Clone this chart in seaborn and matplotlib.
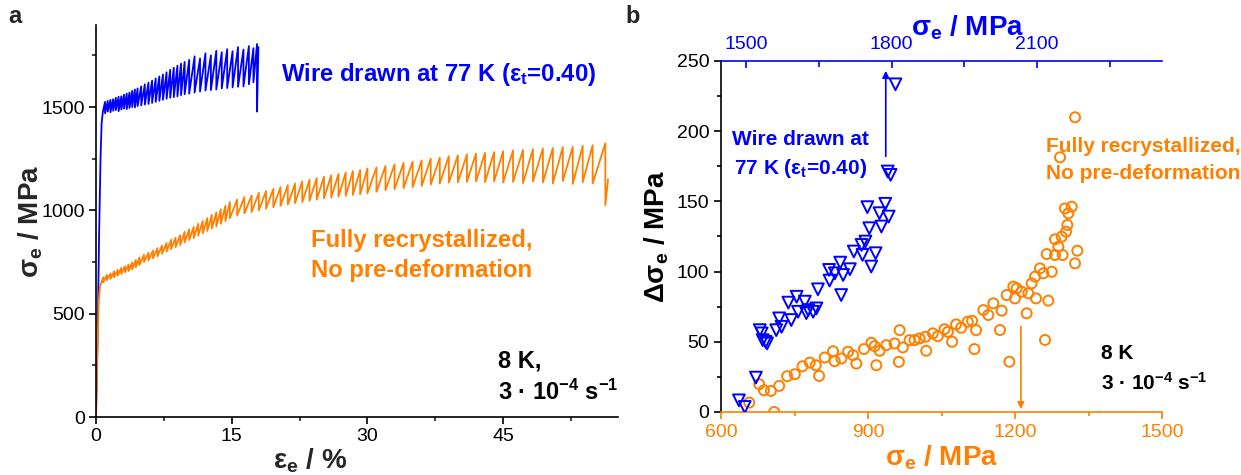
import numpy as np
import pandas as pd
import matplotlib
matplotlib.use('Agg')
import matplotlib.pyplot as plt
from matplotlib.ticker import MultipleLocator, FixedLocator
import seaborn as sns

BLUE = '#0000FF'
ORANGE = '#FF8000'

# ---------------- Panel a: engineering stress-strain curves ----------------
# wire drawn at 77 K
blue_elastic_strain = [0.0, 0.2, 0.35, 0.5, 0.62, 0.75]
blue_elastic_stress = [0, 450, 900, 1250, 1420, 1475]
blue_serr_strain = [1.0, 1.3, 1.6, 1.9, 2.2, 2.5, 2.8, 3.1, 3.4, 3.7, 4.0, 4.3, 4.6, 5.0,
                    5.4, 5.8, 6.2, 6.6, 7.0, 7.4, 7.8, 8.2, 8.6, 9.0, 9.4, 9.8,
                    10.3, 10.9, 11.5, 12.1, 12.7, 13.3, 13.9, 14.5, 15.1, 15.7, 16.3, 16.9, 17.4, 17.8]
blue_peak_stress = [1525, 1530, 1535, 1538, 1545, 1550, 1552, 1560, 1565, 1570, 1578, 1585, 1590, 1600,
                    1610, 1618, 1628, 1638, 1648, 1658, 1668, 1680, 1690, 1700, 1710, 1718,
                    1728, 1745, 1735, 1760, 1750, 1772, 1765, 1780, 1770, 1790, 1778, 1795, 1785, 1805]
blue_trough_stress = [1470, 1478, 1475, 1482, 1485, 1480, 1488, 1492, 1490, 1495, 1500, 1498, 1505, 1508,
                      1512, 1515, 1520, 1525, 1530, 1535, 1540, 1545, 1548, 1552, 1558, 1562,
                      1565, 1570, 1575, 1580, 1582, 1585, 1590, 1592, 1595, 1598, 1600, 1610, 1620, 1478]
blue_end_strain = [17.95]
blue_end_stress = [1790]

# fully recrystallized
orange_elastic_strain = [0.0, 0.15, 0.3, 0.45, 0.6]
orange_elastic_stress = [0, 300, 560, 635, 650]
orange_serr_strain = [0.8, 1.2, 1.6, 2.0, 2.4, 2.8, 3.2, 3.6, 4.0, 4.4, 4.8,
                      5.3, 5.8, 6.3, 6.8, 7.3, 7.8, 8.3, 8.8, 9.3, 9.8, 10.3, 10.8, 11.3, 11.8,
                      12.3, 12.8, 13.3, 13.8, 14.3, 14.8,
                      15.6, 16.4, 17.2, 18.0, 18.8, 19.6, 20.4, 21.2, 22.0, 22.8, 23.6, 24.4,
                      25.2, 26.0, 26.8, 27.6, 28.4, 29.2, 30.0,
                      31.0, 32.0, 33.0, 34.0, 35.0, 36.0, 37.0, 38.0, 39.0, 40.0, 41.0, 42.0,
                      43.0, 44.0, 45.0,
                      46.1, 47.2, 48.3, 49.4, 50.5, 51.6, 52.7, 53.8, 54.9, 56.3]
orange_peak_stress = [675, 688, 695, 705, 712, 722, 730, 738, 748, 760, 772,
                      785, 795, 806, 818, 830, 842, 858, 868, 880, 896, 908, 920, 935, 948,
                      962, 978, 990, 1005, 1022, 1040,
                      1052, 1064, 1072, 1085, 1094, 1104, 1112, 1122, 1130, 1140, 1148, 1156,
                      1163, 1170, 1176, 1183, 1190, 1195, 1202,
                      1208, 1215, 1222, 1230, 1236, 1242, 1250, 1255, 1262, 1266, 1270, 1275,
                      1278, 1282, 1286,
                      1290, 1292, 1296, 1300, 1302, 1306, 1308, 1312, 1315, 1325]
orange_trough_stress = [652, 662, 668, 676, 684, 692, 700, 706, 714, 724, 735,
                        750, 758, 768, 778, 790, 800, 812, 822, 832, 845, 856, 866, 878, 888,
                        900, 912, 922, 935, 948, 962,
                        975, 985, 992, 1000, 1008, 1015, 1022, 1028, 1035, 1040, 1046, 1052,
                        1058, 1062, 1066, 1070, 1075, 1078, 1082,
                        1090, 1098, 1102, 1108, 1112, 1118, 1125, 1130, 1134, 1136, 1138, 1140,
                        1136, 1140, 1135,
                        1138, 1132, 1140, 1135, 1130, 1142, 1128, 1136, 1130, 1025]
orange_end_strain = [56.6]
orange_end_stress = [1150]

# ---------------- Panel b: stress drop vs. stress ----------------
blue_sigma = [1485, 1497, 1520, 1528, 1534, 1543, 1540, 1532, 1562, 1568, 1573, 1593, 1587,
              1604, 1607, 1621, 1624, 1628, 1638, 1645, 1648, 1671, 1672, 1683, 1694, 1700,
              1696, 1714, 1722, 1740, 1738, 1746, 1758, 1767, 1750, 1754, 1787, 1775, 1779,
              1794, 1792, 1798, 1808]
blue_dsigma = [8.3, 3.6, 24.5, 58.3, 51.2, 48.8, 50.0, 56.0, 58.3, 66.7, 60.7, 65.5, 77.9,
               82.1, 71.4, 78.6, 70.4, 72.6, 71.4, 73.8, 87.4, 101.2, 93.6, 98.8, 106.4, 97.6,
               83.3, 101.7, 114.3, 111.9, 119.0, 121.4, 103.6, 113.1, 145.9, 130.9, 148.3, 141.6,
               132.1, 139.2, 171.3, 168.9, 233.4]

orange_sigma = [657.7, 678.0, 687.6, 701.8, 708.6, 718.8, 735.0, 750.7, 766.3, 781.2, 793.4,
                800.2, 811.8, 828.7, 832.1, 845.7, 859.3, 869.5, 876.2, 891.8, 906.8, 913.6,
                917.0, 923.7, 937.3, 954.3, 964.5, 963.0, 971.2, 984.8, 995.0, 1005.2, 1018.8,
                1017.4, 1032.3, 1042.5, 1056.0, 1063.0, 1071.7, 1079.8, 1090.0, 1103.6, 1112.4,
                1117.2, 1120.6, 1135.4, 1155.8, 1145.6, 1169.4, 1172.8, 1183.0, 1196.6, 1203.5,
                1200.0, 1213.6, 1223.8, 1227.2, 1234.0, 1240.9, 1242.9, 1251.0, 1257.9, 1261.3,
                1268.0, 1274.9, 1264.7, 1281.7, 1281.7, 1288.5, 1295.3, 1297.3, 1304.1, 1306.8,
                1302.0, 1308.9, 1315.7, 1322.5, 1327.2, 1291.9, 1322.5, 1188.5]
orange_dsigma = [6.7, 19.8, 15.5, 15.0, 0.0, 18.6, 25.5, 26.9, 32.6, 35.2, 33.3,
                 25.7, 38.8, 43.3, 36.2, 38.1, 42.9, 40.5, 34.5, 44.8, 49.3, 46.9,
                 33.3, 43.6, 47.6, 48.8, 58.3, 35.7, 46.0, 51.2, 51.2, 52.4, 43.6,
                 53.6, 56.0, 54.0, 59.0, 57.1, 50.0, 62.4, 60.0, 64.3, 65.0,
                 44.8, 58.3, 72.6, 77.4, 69.1, 58.4, 72.2, 83.3, 89.3, 88.1,
                 80.9, 85.7, 70.3, 84.5, 91.6, 96.4, 80.9, 102.3, 98.8, 51.3,
                 79.3, 99.9, 112.5, 111.8, 123.0, 117.7, 124.9, 111.8, 128.4, 133.2,
                 145.0, 141.5, 146.2, 105.9, 114.9, 181.4, 209.9, 35.8]

# arrows marking the maximum flow stress (x, y_start, y_end)
blue_arrow = [1788, 182, 243]
orange_arrow = [1212, 61, 2]


def sawtooth(el_s, el_y, s, pk, tr, end_s, end_y):
    xs, ys = list(el_s), list(el_y)
    for a, p, t in zip(s, pk, tr):
        xs += [a, a]
        ys += [p, t]
    xs += list(end_s)
    ys += list(end_y)
    return pd.DataFrame({'strain': xs, 'stress': ys})


sns.set_theme(style='ticks')
plt.rcParams['font.family'] = ['Liberation Sans', 'DejaVu Sans']
plt.rcParams['mathtext.fontset'] = 'custom'
plt.rcParams['mathtext.rm'] = 'Liberation Sans'
plt.rcParams['mathtext.bf'] = 'Liberation Sans:bold'
plt.rcParams['mathtext.it'] = 'Liberation Sans:italic'
plt.rcParams['mathtext.default'] = 'bf'
plt.rcParams['axes.linewidth'] = 1.2

W, H = 1241, 475
fig = plt.figure(figsize=(W / 100, H / 100), dpi=100)
fig.patch.set_facecolor('white')

# ---------------- Panel a ----------------
axA = fig.add_axes([96 / W, 58 / H, 522 / W, 392 / H])
blue_df = sawtooth(blue_elastic_strain, blue_elastic_stress, blue_serr_strain,
                   blue_peak_stress, blue_trough_stress, blue_end_strain, blue_end_stress)
orange_df = sawtooth(orange_elastic_strain, orange_elastic_stress, orange_serr_strain,
                     orange_peak_stress, orange_trough_stress, orange_end_strain, orange_end_stress)
sns.lineplot(data=blue_df, x='strain', y='stress', sort=False, estimator=None,
             color=BLUE, lw=1.3, ax=axA)
sns.lineplot(data=orange_df, x='strain', y='stress', sort=False, estimator=None,
             color=ORANGE, lw=1.3, ax=axA)
axA.set_xlim(0, 57.7)
axA.set_ylim(0, 1897)
axA.xaxis.set_major_locator(MultipleLocator(15))
axA.xaxis.set_minor_locator(MultipleLocator(7.5))
axA.yaxis.set_major_locator(MultipleLocator(500))
axA.yaxis.set_minor_locator(MultipleLocator(250))
axA.tick_params(which='major', direction='out', length=5, width=1.2, labelsize=14,
                colors='black', pad=3)
axA.tick_params(which='minor', direction='out', length=3, width=1.2)
for sp in ['top', 'right']:
    axA.spines[sp].set_visible(False)
for sp in ['left', 'bottom']:
    axA.spines[sp].set_color('black')
axA.set_xlabel('ε$_e$ / %', fontsize=20, fontweight='bold')
axA.xaxis.set_label_coords(0.41, -0.075)
axA.set_ylabel('σ$_e$ / MPa', fontsize=20, fontweight='bold')
axA.yaxis.set_label_coords(-0.098, 0.5)

axA.text(20.5, 1657, 'Wire drawn at 77 K (ε$_t$=0.40)', color=BLUE, fontsize=17.2,
         fontweight='bold', va='center', ha='left')
axA.text(23.8, 855, 'Fully recrystallized,', color=ORANGE, fontsize=17.2,
         fontweight='bold', va='center', ha='left')
axA.text(23.8, 710, 'No pre-deformation', color=ORANGE, fontsize=17.2,
         fontweight='bold', va='center', ha='left')
axA.text(44.4, 272, '8 K,', color='black', fontsize=17, fontweight='bold',
         va='center', ha='left')
axA.text(44.4, 118, '3 · 10$^{-4}$ s$^{-1}$', color='black', fontsize=17,
         fontweight='bold', va='center', ha='left')

# ---------------- Panel b ----------------
axB = fig.add_axes([721 / W, 63 / H, 441 / W, 351 / H])
sns.scatterplot(x=orange_sigma, y=orange_dsigma, marker='o', s=52, ax=axB,
                color=ORANGE, linewidth=1.4, zorder=3)
coll = axB.collections[-1]
coll.set_facecolor('none')
coll.set_edgecolor(ORANGE)
axB.set_xlim(600, 1500)
axB.set_ylim(0, 250)

axT = axB.twiny()
sns.scatterplot(x=blue_sigma, y=blue_dsigma, marker='v', s=72, ax=axT,
                color=BLUE, linewidth=1.4, zorder=3)
collT = axT.collections[-1]
collT.set_facecolor('none')
collT.set_edgecolor(BLUE)
axT.set_xlim(1448, 2358)
axT.set_ylim(0, 250)

axB.xaxis.set_major_locator(MultipleLocator(300))
axB.xaxis.set_minor_locator(MultipleLocator(150))
axB.yaxis.set_major_locator(MultipleLocator(50))
axB.yaxis.set_minor_locator(MultipleLocator(25))
axT.xaxis.set_major_locator(FixedLocator([1500, 1800, 2100]))
axT.xaxis.set_minor_locator(FixedLocator([1650, 1950, 2250]))

axB.tick_params(axis='x', which='both', colors=ORANGE, labelsize=14, width=1.2, direction='out')
axB.tick_params(axis='x', which='major', length=5)
axB.tick_params(axis='x', which='minor', length=3)
axB.tick_params(axis='y', which='both', colors='black', labelsize=14, width=1.2, direction='out')
axB.tick_params(axis='y', which='major', length=5)
axB.tick_params(axis='y', which='minor', length=3)
axT.tick_params(axis='x', which='both', colors=BLUE, labelsize=14, width=1.2, direction='in',
                top=True, bottom=False, labeltop=True, labelbottom=False, pad=6)
axT.tick_params(axis='x', which='major', length=5)
axT.tick_params(axis='x', which='minor', length=4)
axT.tick_params(axis='y', which='both', left=False, right=False, labelleft=False, labelright=False)

for sp in ['top', 'right']:
    axB.spines[sp].set_visible(False)
axB.spines['bottom'].set_color(ORANGE)
axB.spines['left'].set_color('black')
for sp in ['bottom', 'left', 'right']:
    axT.spines[sp].set_visible(False)
axT.spines['top'].set_color(BLUE)

axB.set_xlabel('σ$_e$ / MPa', fontsize=20, fontweight='bold', color=ORANGE, labelpad=2)
axB.set_ylabel('Δσ$_e$ / MPa', fontsize=20, fontweight='bold', color='black', labelpad=4)
axT.set_xlabel('σ$_e$ / MPa', fontsize=20, fontweight='bold', color=BLUE)
axT.xaxis.set_label_coords(0.558, 1.0 + 26 / 351)

axT.annotate('', xy=(blue_arrow[0], blue_arrow[2]), xytext=(blue_arrow[0], blue_arrow[1]),
             arrowprops=dict(arrowstyle='-|>', color=BLUE, lw=1.2, mutation_scale=10,
                             shrinkA=0, shrinkB=0))
axB.annotate('', xy=(orange_arrow[0], orange_arrow[2]), xytext=(orange_arrow[0], orange_arrow[1]),
             arrowprops=dict(arrowstyle='-|>', color=ORANGE, lw=1.2, mutation_scale=10,
                             shrinkA=0, shrinkB=0))

axB.text(762, 193.8, 'Wire drawn at', color=BLUE, fontsize=15, fontweight='bold',
         ha='center', va='center')
axB.text(762, 173.6, '77 K (ε$_t$=0.40)', color=BLUE, fontsize=15, fontweight='bold',
         ha='center', va='center')
axB.text(1263, 189, 'Fully recrystallized,', color=ORANGE, fontsize=15, fontweight='bold',
         ha='left', va='center', clip_on=False)
axB.text(1263, 170, 'No pre-deformation', color=ORANGE, fontsize=15, fontweight='bold',
         ha='left', va='center', clip_on=False)
axB.text(1376, 42, '8 K', color='black', fontsize=15, fontweight='bold', ha='left', va='center')
axB.text(1376, 20.6, '3 · 10$^{-4}$ s$^{-1}$', color='black', fontsize=15, fontweight='bold',
         ha='left', va='center')

fig.text(8 / W, 1 - 5 / H, 'a', fontsize=17, fontweight='bold', va='top', ha='left')
fig.text(625 / W, 1 - 5 / H, 'b', fontsize=17, fontweight='bold', va='top', ha='left')

fig.savefig('out.png', dpi=100, facecolor='white')
